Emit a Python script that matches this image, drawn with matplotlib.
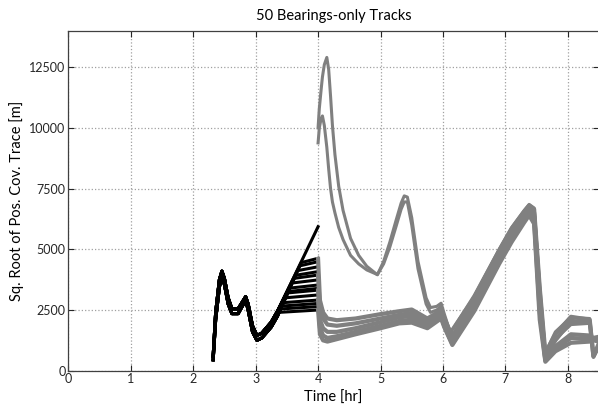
import matplotlib
matplotlib.use("Agg")
import matplotlib.pyplot as plt

# ---------------- data ----------------
# black part (first leg, 2.3 - 4.0 hr): shared early path, two edges of the bundle
black_t = [2.32, 2.36, 2.42, 2.46, 2.50, 2.56, 2.62, 2.72, 2.84, 2.88, 2.95, 3.02, 3.10, 3.25, 3.35]
black_hi = [600, 2400, 3750, 4100, 3800, 3000, 2550, 2550, 3050, 2750, 1850, 1450, 1550, 2000, 2450]
black_lo = [450, 2100, 3450, 3900, 3550, 2750, 2350, 2350, 2900, 2500, 1600, 1250, 1350, 1800, 2250]

# the one track that keeps climbing to t=4
black_top_end = 5930

# fan of tracks that level off: where they leave the climb, and where they end at t=4
branch_t0 = [3.73, 3.71, 3.67, 3.64, 3.61, 3.58, 3.54, 3.52, 3.50, 3.47, 3.43, 3.41, 3.38, 3.36]
branch_v0 = [4450, 4320, 4120, 3930, 3800, 3610, 3400, 3260, 3200, 3000, 2800, 2660, 2540, 2400]
branch_v1 = [4630, 4490, 4280, 4080, 3940, 3740, 3530, 3390, 3320, 3120, 2910, 2770, 2640, 2500]

# gray part (second leg, 4.0 - 8.5 hr): main bundle
gray_t = [4.00, 4.03, 4.08, 4.15, 4.30, 4.60, 5.00, 5.30, 5.50, 5.75, 5.97, 6.02, 6.15,
          6.50, 6.90, 7.10, 7.30, 7.38, 7.46, 7.55, 7.64, 7.80, 8.05, 8.35, 8.41, 8.50]
gray_high = [4600, 2900, 2400, 2150, 2080, 2150, 2330, 2450, 2520, 2150, 2480, 2150, 1400,
             3000, 4950, 5850, 6550, 6800, 6650, 3400, 720, 1500, 2220, 2100, 580, 1050]
gray_mid_a = [3900, 2500, 2150, 1900, 1850, 1950, 2150, 2300, 2380, 2000, 2380, 2000, 1250,
              2850, 4800, 5700, 6400, 6700, 6500, 3000, 550, 1250, 2050, 2000, 600, 1150]
gray_mid_b = [3300, 2100, 1750, 1600, 1600, 1750, 2000, 2200, 2250, 1900, 2300, 1900, 1150,
              2700, 4650, 5550, 6300, 6600, 6350, 2700, 450, 1000, 1500, 1450, 1350, 1400]
gray_mid_c = [2900, 1800, 1450, 1350, 1420, 1600, 1850, 2050, 2100, 1820, 2220, 1850, 1100,
              2550, 4500, 5450, 6200, 6500, 6200, 2400, 420, 900, 1350, 1300, 1300, 1250]
gray_low = [2500, 1500, 1250, 1200, 1300, 1500, 1750, 1950, 1980, 1750, 2150, 1800, 1060,
            2450, 4400, 5300, 6100, 6400, 6050, 2100, 370, 800, 1150, 1200, 1250, 1200]

# gray part: the two tracks with the big spike after t=4
upper_t = [4.00, 4.02, 4.05, 4.07, 4.10, 4.14, 4.17, 4.20, 4.23, 4.27, 4.33, 4.40, 4.52,
           4.65, 4.78, 4.95, 5.05, 5.15, 5.25, 5.33, 5.38, 5.43, 5.50, 5.60, 5.73, 5.80,
           5.90, 5.97, 6.02, 6.12, 6.50, 6.90, 7.10, 7.30, 7.38, 7.46, 7.55, 7.64, 7.80,
           8.05, 8.35, 8.41, 8.50]
upper_outer = [10000, 10800, 11600, 12100, 12600, 12900, 12400, 11300, 10100, 8900, 7600, 6600, 5450,
               4750, 4300, 3950, 4500, 5300, 6200, 6900, 7200, 7150, 6300, 4500, 3000, 2600,
               2650, 2780, 2350, 1550, 3100, 5000, 5900, 6600, 6850, 6700, 3500, 750, 1600,
               2200, 2150, 550, 1000]
upper_inner = [9380, 10000, 10400, 10490, 10100, 9200, 8300, 7500, 6950, 6500, 5900, 5400, 4750,
               4400, 4150, 3960, 4400, 5100, 5950, 6650, 6950, 6950, 6000, 4200, 2750, 2400,
               2500, 2650, 2250, 1600, 3050, 4950, 5850, 6550, 6800, 6650, 3300, 650, 1300,
               1900, 1950, 650, 1100]

xticks = [0, 1, 2, 3, 4, 5, 6, 7, 8]
yticks = [0, 2500, 5000, 7500, 10000, 12500]

# ---------------- plot ----------------
plt.rcParams['font.family'] = ['Lato', 'DejaVu Sans']

fig = plt.figure(figsize=(5.98, 4.15), dpi=100)
ax = fig.add_axes([0.1142, 0.1067, 0.8876, 0.8193])

BLACK = "black"
GRAY = "#808080"
LW = 2.2

# black: the climbing track
ax.plot(black_t + [4.0], black_hi + [black_top_end], color=BLACK, lw=LW, solid_joinstyle="round")
# black: the fan
for i in range(len(branch_t0)):
    base = black_hi if i % 2 == 0 else black_lo
    ax.plot(black_t + [branch_t0[i], 4.0], base + [branch_v0[i], branch_v1[i]],
            color=BLACK, lw=LW, solid_joinstyle="round")

# gray bundle
for ys in [gray_low, gray_mid_c, gray_mid_b, gray_mid_a, gray_high]:
    ax.plot(gray_t, ys, color=GRAY, lw=3.0, solid_joinstyle="round")
for ys in [upper_inner, upper_outer]:
    ax.plot(upper_t, ys, color=GRAY, lw=LW, solid_joinstyle="round")

ax.set_xlim(0, 8.5)
ax.set_ylim(0, 14000)
ax.set_xticks(xticks)
ax.set_yticks(yticks)
ax.tick_params(direction="in", top=True, right=True, length=4, width=0.8,
               labelsize=9, colors="#262626", pad=2)
for s in ax.spines.values():
    s.set_color("#404040")
    s.set_linewidth(0.9)
ax.grid(True, linestyle=":", color="#a0a0a0", linewidth=0.9)
ax.set_axisbelow(True)

ax.set_title("50 Bearings-only Tracks", fontsize=10.5, pad=8)
ax.set_xlabel("Time [hr]", fontsize=10.5, labelpad=4)
ax.set_ylabel("Sq. Root of Pos. Cov. Trace [m]", fontsize=10.5, labelpad=4)

fig.savefig("out.png", dpi=100)
